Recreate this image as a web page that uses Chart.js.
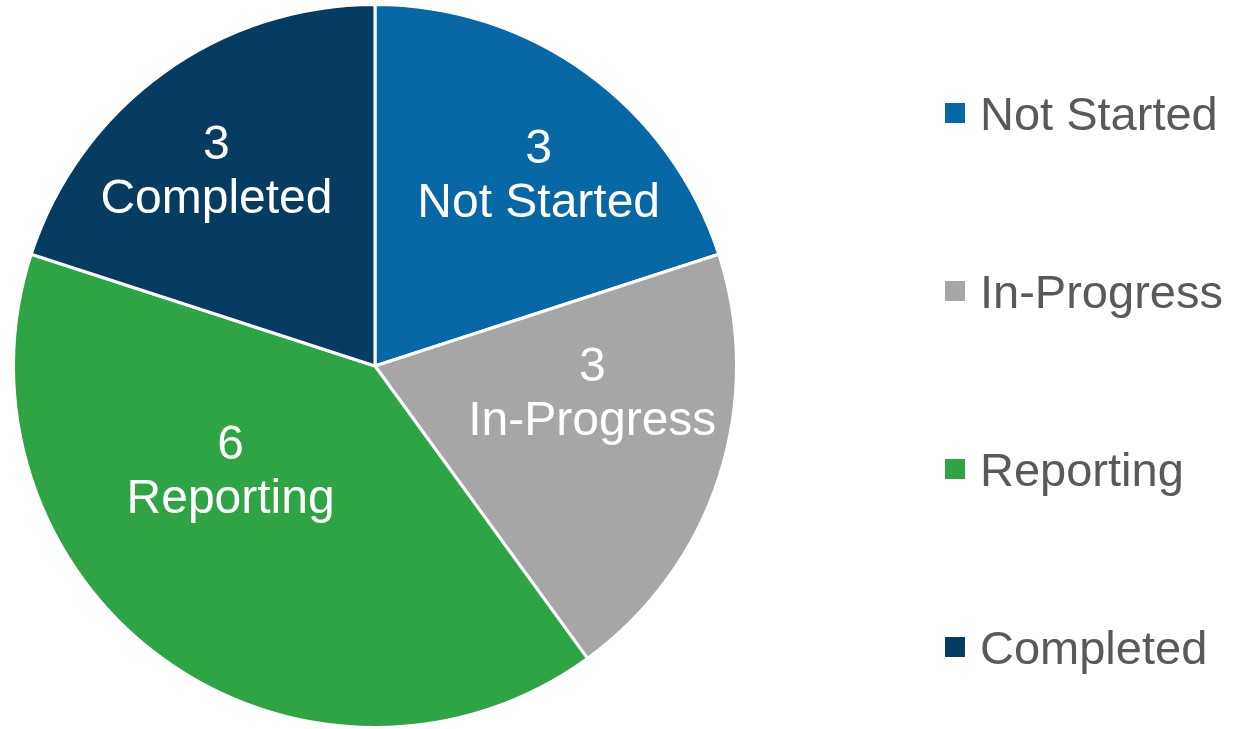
<!DOCTYPE html>
<html>
<head>
<meta charset="utf-8">
<script src="https://cdn.jsdelivr.net/npm/chart.js@4"></script>
<style>
  html, body { margin: 0; padding: 0; background: #fff; }
  #wrap { width: 1234px; height: 729px; }
</style>
</head>
<body>
<div id="wrap"><canvas id="statusPie"></canvas></div>
<script>
// Data
const statusLabels = ['Not Started', 'In-Progress', 'Reporting', 'Completed'];
const statusCounts = [3, 3, 6, 3];
const statusColors = ['#0868A6', '#A6A6A6', '#2FA444', '#073C62'];

const FONT = '"Liberation Sans", Arial, sans-serif';

// Labels inside each slice: count on first line, name on second
const sliceLabels = {
    id: 'sliceLabels',
    afterDatasetsDraw(chart, args, opts) {
        const ctx = chart.ctx;
        const meta = chart.getDatasetMeta(0);
        ctx.save();
        ctx.fillStyle = '#fff';
        ctx.font = '48px ' + FONT;
        ctx.textAlign = 'center';
        ctx.textBaseline = 'alphabetic';
        meta.data.forEach((arc, i) => {
            const p = arc.getProps(['x', 'y', 'startAngle', 'endAngle', 'outerRadius'], true);
            const mid = (p.startAngle + p.endAngle) / 2 + opts.angleShift[i] * Math.PI / 180;
            const r = p.outerRadius * opts.radius[i];
            const cx = p.x + Math.cos(mid) * r;
            const cy = p.y + Math.sin(mid) * r;
            ctx.fillText(String(chart.data.datasets[0].data[i]), cx, cy - 27 + 17);
            ctx.fillText(chart.data.labels[i], cx, cy + 27 + 17);
        });
        ctx.restore();
    }
};

// Legend on the right, spread over the height
const sideLegend = {
    id: 'sideLegend',
    afterDraw(chart, args, opts) {
        const ctx = chart.ctx;
        const ds = chart.data.datasets[0];
        ctx.save();
        ctx.font = '47px ' + FONT;
        ctx.textBaseline = 'alphabetic';
        ctx.textAlign = 'left';
        chart.data.labels.forEach((label, i) => {
            const cy = opts.top + i * opts.step;
            ctx.fillStyle = ds.backgroundColor[i];
            ctx.fillRect(opts.left, cy - 10, 20, 20);
            ctx.fillStyle = '#595959';
            ctx.fillText(label, opts.left + 35, cy + 17);
        });
        ctx.restore();
    }
};

new Chart(document.getElementById('statusPie'), {
    type: 'pie',
    data: {
        labels: statusLabels,
        datasets: [{
            data: statusCounts,
            backgroundColor: statusColors,
            borderColor: '#ffffff',
            borderWidth: 3
        }]
    },
    options: {
        responsive: true,
        maintainAspectRatio: false,
        animation: false,
        layout: { padding: { top: 3, bottom: 0, left: 12, right: 496 } },
        plugins: {
            legend: { display: false },
            tooltip: { enabled: false },
            sliceLabels: {
                angleShift: [4.3, -11.5, 18.6, -2.8],
                radius: [0.70, 0.605, 0.49, 0.70]
            },
            sideLegend: { left: 945, top: 113, step: 178 }
        }
    },
    plugins: [sliceLabels, sideLegend]
});
</script>
</body>
</html>
